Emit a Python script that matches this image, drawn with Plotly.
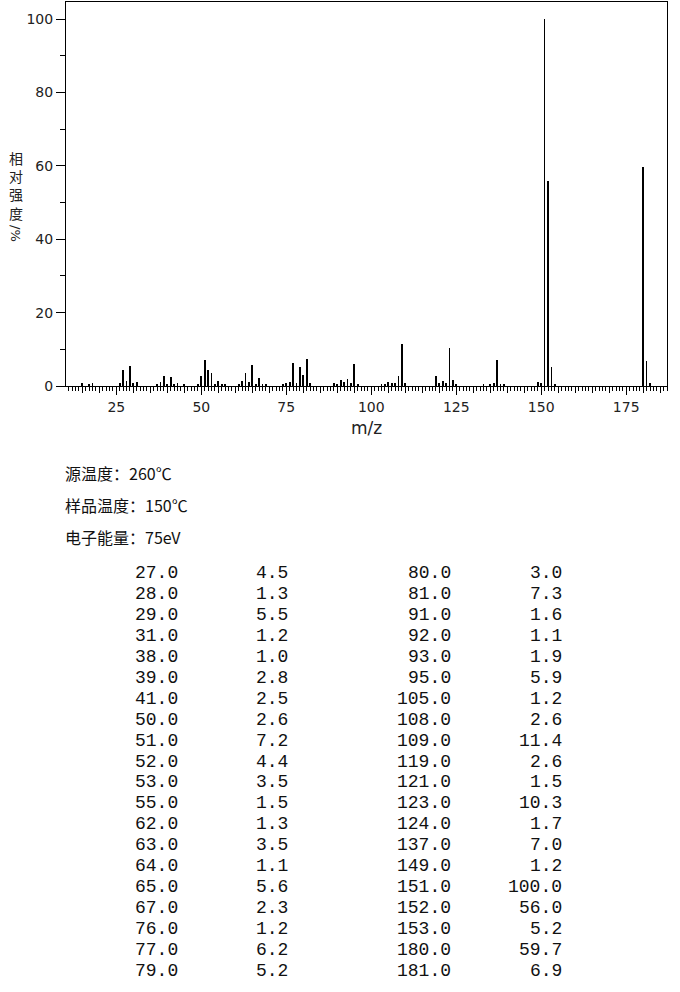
import plotly.graph_objects as go

# Peaks listed in the table (m/z, relative intensity %)
table_mz = [27, 28, 29, 31, 38, 39, 41, 50, 51, 52, 53, 55, 62, 63, 64, 65, 67, 76, 77, 79,
            80, 81, 91, 92, 93, 95, 105, 108, 109, 119, 121, 123, 124, 137, 149, 151, 152, 153, 180, 181]
table_int = [4.5, 1.3, 5.5, 1.2, 1.0, 2.8, 2.5, 2.6, 7.2, 4.4, 3.5, 1.5, 1.3, 3.5, 1.1, 5.6, 2.3, 1.2, 6.2, 5.2,
             3.0, 7.3, 1.6, 1.1, 1.9, 5.9, 1.2, 2.6, 11.4, 2.6, 1.5, 10.3, 1.7, 7.0, 1.2, 100.0, 56.0, 5.2, 59.7, 6.9]

# Small peaks (<1 %) visible in the spectrum only (estimated)
minor_mz = [15, 17, 18, 26, 30, 37, 40, 42, 43, 45, 49, 54, 56, 57, 61, 66, 68, 69, 74, 75, 78, 82,
            89, 90, 94, 96, 103, 104, 106, 107, 110, 120, 122, 125, 133, 135, 136, 138, 139, 150, 154, 182]
minor_int = [0.7, 0.5, 0.9, 0.8, 0.7, 0.6, 0.5, 0.5, 0.8, 0.5, 0.6, 0.6, 0.5, 0.5, 0.5, 0.6, 0.5, 0.5, 0.4, 0.7, 0.9, 0.7,
             0.8, 0.5, 0.8, 0.5, 0.5, 0.6, 0.7, 0.8, 0.8, 0.8, 0.9, 0.5, 0.4, 0.5, 0.9, 0.6, 0.5, 0.8, 0.6, 0.9]

x_major_ticks = [25, 50, 75, 100, 125, 150, 175]
y_ticks = [0, 20, 40, 60, 80, 100]

y_title_chars = ["相", "对", "强", "度"]
info_lines = ["源温度：260℃", "样品温度：150℃", "电子能量：75eV"]

all_mz = table_mz + minor_mz
all_int = table_int + minor_int

W, H = 680, 992
L, R, T, B = 66, 13, 2, 606
PW, PH = W - L - R, H - T - B

def px(X):
    return (X - L) / PW

def py(Y):
    return (H - B - Y) / PH

fig = go.Figure()
fig.add_trace(go.Bar(x=all_mz, y=all_int, width=0.22, marker=dict(color="black", line=dict(width=0)),
                     showlegend=False, hoverinfo="x+y"))
# dummy trace on overlay axis for 5-unit ticks
fig.add_trace(go.Scatter(x=[10.2, 187], y=[0, 0], xaxis="x2", mode="lines",
                         line=dict(width=0), showlegend=False, hoverinfo="skip"))

tick_font = dict(family="DejaVu Sans", size=14, color="#222")
fig.update_layout(
    width=W, height=H,
    margin=dict(l=L, r=R, t=T, b=B),
    paper_bgcolor="white", plot_bgcolor="white",
    bargap=0,
    xaxis=dict(range=[10.2, 187], tickvals=x_major_ticks, ticks="outside", ticklen=8, tickwidth=1,
               tickcolor="black", showline=True, linecolor="black", linewidth=1, mirror=True,
               showgrid=False, zeroline=False, tickfont=tick_font,
               minor=dict(dtick=1, tick0=0, ticks="outside", ticklen=4, tickcolor="black", tickwidth=1,
                          showgrid=False),
               title=dict(text="m/z", font=dict(family="DejaVu Sans", size=17, color="#222"), standoff=8)),
    xaxis2=dict(range=[10.2, 187], overlaying="x", anchor="y", side="bottom",
                tickvals=list(range(15, 186, 5)), ticks="outside", ticklen=6, tickwidth=1, tickcolor="black",
                showticklabels=False, showline=False, showgrid=False, zeroline=False),
    yaxis=dict(range=[0, 104.7], tickvals=y_ticks, ticks="outside", ticklen=9, tickwidth=1, tickcolor="black",
               showline=True, linecolor="black", linewidth=1, mirror=True, showgrid=False, zeroline=False,
               tickfont=tick_font,
               minor=dict(tickvals=[10, 30, 50, 70, 90], ticks="outside", ticklen=5, tickcolor="black",
                          tickwidth=1, showgrid=False)),
)

# Y axis title (stacked characters)
fig.add_annotation(text="<br>".join(y_title_chars), xref="paper", yref="paper", x=px(16), y=py(185),
                   showarrow=False, xanchor="center", yanchor="middle",
                   font=dict(family="Noto Sans CJK SC", size=14, color="#222"))
fig.add_annotation(text="/%", xref="paper", yref="paper", x=px(16), y=py(233), textangle=90,
                   showarrow=False, xanchor="center", yanchor="middle",
                   font=dict(family="DejaVu Sans", size=13, color="#222"))

# Info lines
for i, line in enumerate(info_lines):
    fig.add_annotation(text=line, xref="paper", yref="paper", x=px(63), y=py(473 + 32 * i),
                       showarrow=False, xanchor="left", yanchor="middle",
                       font=dict(family="Noto Sans CJK SC", size=16, color="#111"))

# Peak table
n = len(table_mz) // 2
col_x = [180, 290, 453, 564]
mono = dict(family="Liberation Mono", size=18, color="#111")
for i in range(len(table_mz)):
    col = i // n
    row = i % n
    yy = 573 + row * 20.95
    fig.add_annotation(text=f"{table_mz[i]:.1f}", xref="paper", yref="paper", x=px(col_x[2 * col]), y=py(yy),
                       showarrow=False, xanchor="right", yanchor="middle", font=mono)
    fig.add_annotation(text=f"{table_int[i]:.1f}", xref="paper", yref="paper", x=px(col_x[2 * col + 1]), y=py(yy),
                       showarrow=False, xanchor="right", yanchor="middle", font=mono)

fig.write_html("out.html", config={"displayModeBar": False},
               post_script="document.body.style.margin='0';document.body.style.overflow='hidden';")
